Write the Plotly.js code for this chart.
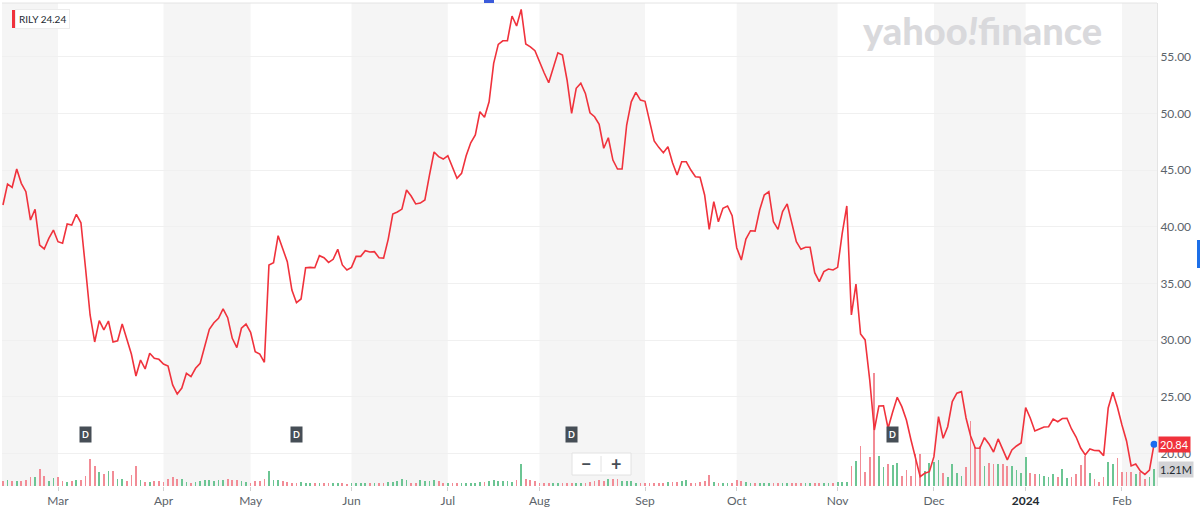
<!DOCTYPE html>
<html><head><meta charset="utf-8">
<script src="https://cdn.plot.ly/plotly-3.0.1.min.js"></script>
<style>html,body{margin:0;padding:0;background:#fff;}#chart{width:1200px;height:525px;}</style>
</head><body><div id="chart"></div>
<script>
const symbol = 'RILY';
const headerValue = '24.24';
const firstDay = '2023-02-10';
const lastDay = '2024-02-12';
const holidays = ['2023-02-20','2023-04-07','2023-05-29','2023-06-19','2023-07-04','2023-09-04','2023-11-23','2023-12-25','2024-01-01','2024-01-15'];

const closePrices = [
41.93,43.78,43.49,45.10,43.84,43.10,40.60,41.55,38.40,38.05,
38.99,39.72,38.69,38.55,40.25,40.16,41.11,40.36,36.37,32.23,
29.85,31.73,30.91,31.70,29.85,29.96,31.43,30.20,28.79,26.85,
28.26,27.47,28.85,28.41,28.32,27.91,27.73,26.06,25.26,25.79,
27.09,26.79,27.53,27.97,29.58,30.97,31.55,31.94,32.76,31.99,
30.17,29.35,31.06,31.43,30.70,28.99,28.79,28.06,36.64,36.84,
39.22,38.11,36.93,34.43,33.31,33.64,36.40,36.43,36.40,37.46,
37.28,36.87,37.14,38.02,36.64,36.20,36.43,37.40,37.40,37.90,
37.78,37.81,37.28,37.25,38.90,41.13,41.31,41.57,43.25,42.72,
42.02,42.10,42.37,44.57,46.60,46.19,45.98,46.27,45.30,44.28,
44.72,46.27,47.42,48.10,50.15,49.66,51.03,54.42,56.09,56.41,
56.41,58.59,57.71,59.18,56.12,55.88,55.53,54.51,53.59,52.71,
54.03,55.35,55.15,52.95,50.01,52.22,52.66,51.77,50.06,49.71,
49.04,46.93,47.86,45.89,45.10,45.10,48.98,51.03,51.86,51.18,
51.07,49.27,47.57,47.01,46.54,47.07,45.66,44.57,45.74,45.74,
45.01,44.42,44.37,42.81,39.78,42.22,40.45,41.64,41.84,40.98,
38.16,37.08,38.93,39.66,39.63,41.49,42.81,43.10,40.45,39.78,
41.34,42.02,40.45,38.69,38.02,38.20,38.20,35.96,35.17,36.05,
36.28,36.20,36.43,39.43,41.84,32.23,34.96,30.55,30.03,26.50,
22.09,24.21,24.23,22.24,23.68,24.97,24.15,22.97,21.21,19.60,
17.97,18.27,18.41,19.74,23.26,21.36,22.38,24.59,25.33,25.47,
23.15,21.56,20.50,20.48,21.41,20.86,20.15,21.30,20.42,19.45,
20.33,20.68,20.94,24.06,23.15,22.00,22.18,22.36,22.38,23.06,
22.82,23.10,23.12,22.18,21.47,20.50,19.89,20.42,20.28,20.27,
19.83,24.03,25.41,24.12,22.53,21.12,18.92,19.09,18.48,18.17,
18.56,20.84
];

const volumeM = [
0.39,0.43,0.39,0.39,0.39,0.43,0.63,0.63,1.21,0.72,0.39,0.60,0.63,0.34,0.29,0.34,0.43,0.43,0.72,
1.93,1.45,1.04,0.87,1.11,1.11,0.48,0.48,0.39,0.80,1.45,0.43,0.29,0.29,0.34,0.39,0.29,0.48,0.63,0.53,0.51,
0.29,0.24,0.29,0.34,0.43,0.43,0.39,0.43,0.43,0.53,0.43,0.43,0.34,0.29,0.24,0.34,0.34,0.48,1.09,0.43,0.43,0.39,0.29,0.24,0.24,0.29,0.24,0.19,0.19,0.19,
0.19,0.19,0.19,0.19,0.19,0.14,0.19,0.19,0.24,0.19,0.19,0.24,0.19,0.19,0.29,0.29,0.34,
0.48,0.43,0.24,0.24,0.43,0.34,0.39,0.43,0.34,0.19,
0.19,0.24,0.19,0.19,0.19,0.24,0.24,0.29,0.29,0.34,
0.43,0.39,0.34,0.34,0.29,0.43,1.59,0.48,0.43,0.34,0.24,
0.24,0.19,0.19,0.19,0.19,0.24,0.19,0.19,0.24,0.24,0.29,0.34,
0.43,0.39,0.48,0.48,0.48,0.39,0.34,0.34,0.24,
0.19,0.19,0.19,0.19,0.19,0.24,0.29,
0.29,0.29,0.34,0.43,0.24,0.19,0.29,0.34,0.82,0.29,0.24,0.24,0.24,0.24,0.43,0.34,0.29,
0.24,0.24,0.24,0.19,0.24,0.24,0.19,0.24,0.24,0.24,0.19,
0.24,0.24,0.24,0.19,0.24,0.24,0.19,0.24,0.29,0.31,0.31,
1.45,1.84,2.90,1.04,2.13,8.16,2.17,1.35,1.59,1.52,1.64,0.72,1.16,0.72,2.32,2.32,
1.11,1.69,1.76,1.88,0.92,0.63,1.59,0.92,0.72,1.35,4.71,2.85,2.90,1.45,1.69,1.59,1.59,1.59,1.45,1.45,1.16,0.92,2.13,0.97,0.87,0.87,0.72,
0.63,0.87,0.68,1.26,0.58,0.68,0.87,1.52,2.17,0.92,0.48,0.31,0.63,1.76,1.59,2.00,1.04,1.04,1.04,0.87,1.04,0.48,0.63,1.21
];

const monthStarts = ['2023-03-01','2023-04-03','2023-05-01','2023-06-01','2023-07-03','2023-08-01','2023-09-01','2023-10-02','2023-11-01','2023-12-01','2024-01-02','2024-02-01'];
const monthLabels = ['Mar','Apr','May','Jun','Jul','Aug','Sep','Oct','Nov','Dec','2024','Feb'];
const dividendDates = ['2023-03-09','2023-05-15','2023-08-10','2023-11-17'];
const priceTicks = [20,25,30,35,40,45,50,55];

function tradingDays(start, end, hol) {
  const out = [];
  const d = new Date(start + 'T00:00:00Z');
  const e = new Date(end + 'T00:00:00Z');
  while (d <= e) {
    const wd = d.getUTCDay();
    const s = d.toISOString().slice(0, 10);
    if (wd !== 0 && wd !== 6 && !hol.includes(s)) out.push(s);
    d.setUTCDate(d.getUTCDate() + 1);
  }
  return out;
}
const dates = tradingDays(firstDay, lastDay, holidays);
const n = dates.length;

const GREEN = '#6cc593', RED = '#f28c96', LINE = '#f0323c';
const barColors = volumeM.map((v, i) => (i > 0 && closePrices[i] >= closePrices[i - 1]) ? GREEN : RED);

const lastDate = dates[n - 1];
const lastPrice = closePrices[closePrices.length - 1];
const lastVol = volumeM[volumeM.length - 1];

// px -> paper helpers (plot area 2..1157 x, 3..486 y)
const PX = p => (p - 2) / 1155;
const PY = p => (486 - p) / 483;

const traces = [
  { type: 'bar', x: dates, y: volumeM, yaxis: 'y', marker: { color: barColors, line: { width: 0 } }, width: 0.38, hoverinfo: 'skip' },
  { type: 'scatter', mode: 'lines', x: dates, y: closePrices, yaxis: 'y2', line: { color: LINE, width: 1.6 }, hoverinfo: 'skip' },
  { type: 'scatter', mode: 'markers', x: [lastDate], y: [lastPrice], yaxis: 'y2', marker: { color: '#1a6cf0', size: 7 }, hoverinfo: 'skip' }
];

// shaded month bands (even months)
const idx = d => dates.indexOf(d);
const bandEdges = [[-5, idx(monthStarts[0])]];
for (let k = 1; k < monthStarts.length; k += 2) {
  const a = idx(monthStarts[k]);
  const b = k + 1 < monthStarts.length ? idx(monthStarts[k + 1]) : n + 10;
  bandEdges.push([a, b]);
}
const shapes = bandEdges.map(([a, b]) => ({
  type: 'rect', xref: 'x', yref: 'paper', x0: a, x1: b, y0: 0, y1: 1,
  fillcolor: '#f5f5f5', line: { width: 0 }, layer: 'below'
}));
shapes.push({ type: 'line', xref: 'paper', yref: 'paper', x0: 0, x1: 1, y0: 1, y1: 1, line: { color: '#e4e4e4', width: 1 } });
// header badge red bar
shapes.push({ type: 'rect', xref: 'paper', yref: 'paper', x0: PX(12), x1: PX(15), y0: PY(28), y1: PY(10), fillcolor: '#f0323c', line: { width: 0 } });
// zoom control box
shapes.push({ type: 'rect', xref: 'paper', yref: 'paper', x0: PX(572), x1: PX(631), y0: PY(475), y1: PY(453), fillcolor: '#ffffff', line: { color: '#e2e2e2', width: 1 } });
shapes.push({ type: 'line', xref: 'paper', yref: 'paper', x0: PX(601), x1: PX(601), y0: PY(472), y1: PY(456), line: { color: '#e2e2e2', width: 1 } });
// blue UI marks
shapes.push({ type: 'rect', xref: 'paper', yref: 'paper', x0: PX(1197), x1: PX(1200), y0: PY(268), y1: PY(240), fillcolor: '#1d6fe8', line: { width: 0 } });
shapes.push({ type: 'rect', xref: 'paper', yref: 'paper', x0: PX(484), x1: PX(494), y0: PY(3), y1: PY(0), fillcolor: '#3b5bdb', line: { width: 0 } });

const annotations = [
  { xref: 'paper', yref: 'paper', x: PX(983), y: PY(30), xanchor: 'center', yanchor: 'middle', text: 'yahoo<i>!</i>finance', showarrow: false,
    font: { family: 'Lato, sans-serif', size: 38, weight: 900, color: '#d9d9dc' } },
  { xref: 'paper', yref: 'paper', x: PX(15), y: PY(19), xanchor: 'left', yanchor: 'middle', text: symbol + ' ' + headerValue, showarrow: false,
    bgcolor: '#ffffff', bordercolor: '#ececec', borderwidth: 1, borderpad: 3, font: { family: 'Lato, sans-serif', size: 10, color: '#232a31' } },
  { xref: 'paper', yref: 'paper', x: PX(586), y: PY(464), xanchor: 'center', yanchor: 'middle', text: '<b>−</b>', showarrow: false, font: { family: 'Lato, sans-serif', size: 18, color: '#464e56' } },
  { xref: 'paper', yref: 'paper', x: PX(616), y: PY(464), xanchor: 'center', yanchor: 'middle', text: '<b>+</b>', showarrow: false, font: { family: 'Lato, sans-serif', size: 18, color: '#464e56' } },
  { xref: 'paper', yref: 'y2', x: 1.0005, y: lastPrice, xanchor: 'left', yanchor: 'middle', text: lastPrice.toFixed(2), showarrow: false,
    bgcolor: '#f0323c', borderpad: 1, font: { family: 'Lato, sans-serif', size: 11, color: '#ffffff' } },
  { xref: 'paper', yref: 'y', x: 1.0005, y: lastVol, xanchor: 'left', yanchor: 'middle', text: lastVol.toFixed(2) + 'M', showarrow: false,
    bgcolor: '#d3d3d6', borderpad: 1, font: { family: 'Lato, sans-serif', size: 11, color: '#232a31' } }
];
dividendDates.forEach(d => annotations.push({
  xref: 'x', yref: 'paper', x: d, y: PY(434), xanchor: 'center', yanchor: 'middle', text: '<b>D</b>', showarrow: false,
  bgcolor: '#464e56', borderpad: 2, font: { family: 'Lato, sans-serif', size: 9, color: '#ffffff' }
}));

const tickText = monthLabels.map(t => /^\d{4}$/.test(t) ? '<b><span style="color:#232a31">' + t + '</span></b>' : t);

const layout = {
  width: 1200, height: 525,
  margin: { l: 2, r: 43, t: 3, b: 39 },
  paper_bgcolor: '#ffffff', plot_bgcolor: '#ffffff',
  showlegend: false, hovermode: false, dragmode: false, bargap: 0,
  font: { family: 'Lato, sans-serif', size: 12, color: '#5b636a' },
  xaxis: {
    type: 'category', range: [-0.21, n - 1 + 0.64], tickmode: 'array', tickvals: monthStarts, ticktext: tickText,
    ticks: 'outside', ticklen: 4, tickcolor: '#d0d0d0', showgrid: false, showline: false, zeroline: false,
    tickfont: { family: 'Lato, sans-serif', size: 12, color: '#5b636a' }, fixedrange: true
  },
  yaxis: { range: [0, 35], visible: false, showgrid: false, zeroline: false, fixedrange: true },
  yaxis2: {
    overlaying: 'y', side: 'right', range: [17.15, 59.74], tickmode: 'array', tickvals: priceTicks,
    ticktext: priceTicks.map(v => v.toFixed(2)), ticks: '', showgrid: true, gridcolor: '#f0f0f0', gridwidth: 1,
    showline: true, linecolor: '#e4e4e4', zeroline: false,
    tickfont: { family: 'Lato, sans-serif', size: 12, color: '#5b636a' }, fixedrange: true
  },
  shapes: shapes, annotations: annotations
};

Plotly.newPlot('chart', traces, layout, { staticPlot: true, displayModeBar: false });
</script>
</body></html>
